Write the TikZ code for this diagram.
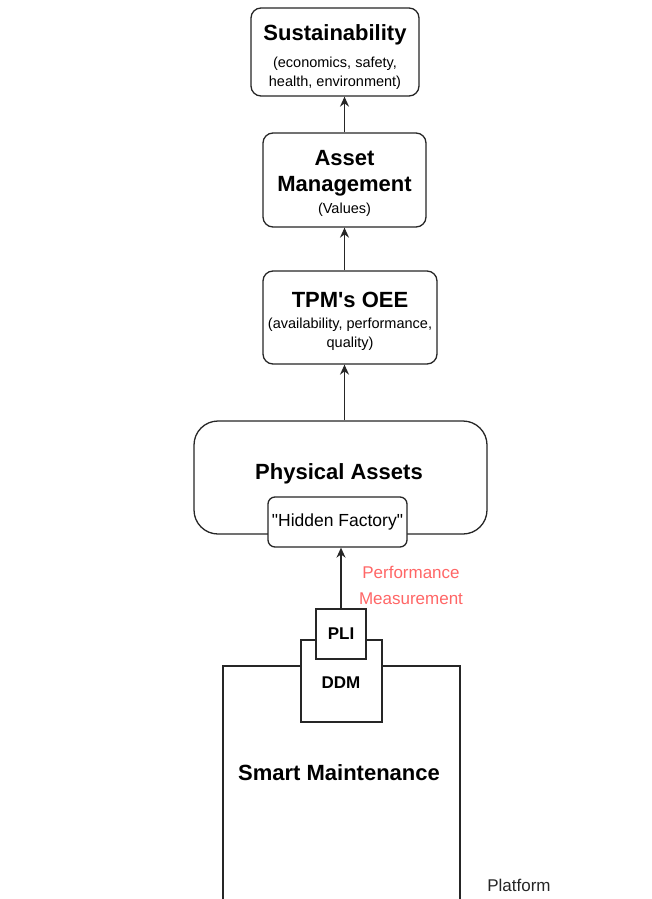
\documentclass[tikz,border=0pt]{standalone}
\usepackage{fontspec}
\setmainfont{Liberation Sans}[Ligatures=TeXOff]
\usetikzlibrary{arrows.meta}
\definecolor{perfred}{HTML}{FF6666}
\newcommand{\titlefont}{\fontsize{22}{26}\selectfont\bfseries}
\begin{document}
\begin{tikzpicture}[x=1pt,y=-1pt,
  box/.style={draw=black!85,line width=1.3pt,fill=white,rounded corners=10pt,inner sep=0pt},
  boxtext/.style={align=center,inner sep=0pt,font=\fontsize{14.5}{19}\selectfont},
  sq/.style={draw=black!85,line width=1.3pt,fill=white,inner sep=0pt},
  arr/.style={draw=black!85,line width=1.3pt,-{Stealth[length=10pt,width=9pt]}},
  big/.style={font=\fontsize{22}{26}\selectfont\bfseries}]
\useasboundingbox (0,0) rectangle (651,899);
% top chain
\node[box,minimum width=168pt,minimum height=88pt] (sust) at (335,52) {};
\node[boxtext] (susttxt) at (335,57.5)
  {{\titlefont Sustainability}\\[8pt]
   (economics, safety,\\
   health, environment)};
\node[box,minimum width=163pt,minimum height=94pt] (asset) at (344.5,180) {};
\node[boxtext] (assettxt) at (344.5,183.5)
  {{\titlefont Asset}\\[7pt]
   {\titlefont Management}\\[3pt]
   (Values)};
\node[box,minimum width=174pt,minimum height=93pt] (tpm) at (350,317.5) {};
\node[boxtext] (tpmtxt) at (350,321)
  {{\titlefont TPM's OEE}\\[2pt]
   (availability, performance,\\
   quality)};
% physical assets
\node[box,rounded corners=24pt,minimum width=293pt,minimum height=113pt] (phys) at (340.5,477.5) {};
\node[big] (physlbl) at (339,474) {Physical Assets};
\node[box,rounded corners=7pt,minimum width=139pt,minimum height=50pt,
  font=\fontsize{17.5}{21}\selectfont] (hidden) at (337.5,522) {\raisebox{-2pt}{"Hidden Factory"}};
% smart maintenance
\node[sq,minimum width=237pt,minimum height=280pt] (smart) at (341.5,806) {};
\node[big] (smartlbl) at (339,772.5) {Smart Maintenance};
\node[sq,minimum width=81pt,minimum height=82pt] (ddm) at (341.5,681) {};
\node[font=\fontsize{17}{20}\selectfont\bfseries] (ddmlbl) at (341,683) {DDM};
\node[sq,minimum width=50pt,minimum height=50pt,font=\fontsize{17}{20}\selectfont\bfseries] (pli) at (341,634) {PLI};
% labels
\node[font=\fontsize{17}{26}\selectfont,text=perfred,align=center] (perf) at (411,585) {Performance\\Measurement};
\node[font=\fontsize{17}{20}\selectfont,text=black!85] (platform) at (519,885) {Platform};
% arrows
\draw[arr] (asset.north) -- (asset.north |- sust.south);
\draw[arr] (tpm.north -| asset.north) -- (asset.south);
\draw[arr] (phys.north -| asset.north) -- (tpm.south -| asset.north);
\draw[arr] (pli.north) -- (pli.north |- hidden.south);
\end{tikzpicture}
\end{document}
